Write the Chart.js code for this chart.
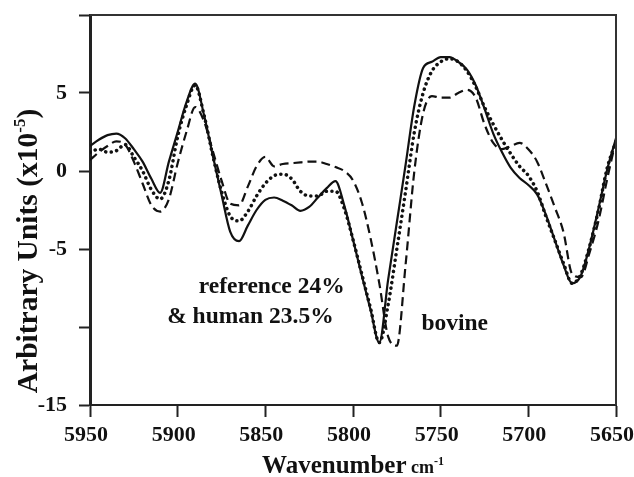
<!DOCTYPE html>
<html>
<head>
<meta charset="utf-8">
<script src="https://cdn.jsdelivr.net/npm/chart.js@4.4.1/dist/chart.umd.min.js"></script>
<style>
  html, body { margin: 0; padding: 0; background: #fff; }
  #spectra { display: block; }
</style>
</head>
<body>
<canvas id="spectra" width="634" height="477"></canvas>
<script>
// wavenumber grid (cm-1), read every 5 units
const wavenumbers = [
  5950, 5945, 5940, 5935, 5930, 5925, 5920, 5915, 5910, 5905,
  5900, 5895, 5890, 5885, 5880, 5875, 5870, 5865, 5860, 5855,
  5850, 5845, 5840, 5835, 5830, 5825, 5820, 5815, 5810, 5805,
  5800, 5795, 5790, 5785, 5780, 5775, 5770, 5765, 5760, 5755,
  5750, 5745, 5740, 5735, 5730, 5725, 5720, 5715, 5710, 5705,
  5700, 5695, 5690, 5685, 5680, 5675, 5670, 5665, 5660, 5655, 5650
];

// solid line - reference 24%
const reference = [
  1.6, 2.0, 2.3, 2.4, 2.1, 1.4, 0.6, -0.5, -1.4, 0.6,
  2.5, 4.4, 5.6, 3.6, 1.0, -1.5, -3.9, -4.5, -3.5, -2.5,
  -1.85, -1.7, -1.9, -2.2, -2.55, -2.3, -1.7, -1.1, -0.65, -2.2,
  -4.4, -6.7, -8.9, -11.0, -7.0, -3.3, 0.4, 4.2, 6.6, 7.0,
  7.3, 7.3, 7.0, 6.5, 5.5, 4.0, 2.4, 1.2, 0.2, -0.45,
  -0.9, -1.5, -2.8, -4.4, -6.0, -7.2, -6.7, -4.8, -2.4, 0.1, 2.1
];

// dotted line - human 23.5%
const human = [
  1.2, 1.4, 1.2, 1.3, 1.7, 0.9, 0.0, -1.2, -1.8, -0.6,
  2.2, 4.2, 5.5, 3.6, 1.0, -1.3, -2.9, -3.2, -2.6, -1.6,
  -0.8, -0.3, -0.2, -0.5, -1.3, -1.6, -1.6, -1.3, -1.3, -2.4,
  -4.4, -6.6, -8.8, -11.0, -8.6, -5.0, -1.3, 2.5, 5.0, 6.4,
  7.0, 7.2, 7.0, 6.4, 5.4, 4.1, 3.0, 2.0, 1.1, 0.3,
  -0.3, -1.3, -2.9, -4.4, -5.9, -7.2, -6.6, -4.8, -2.5, 0.2, 1.9
];

// dashed line - bovine
const bovine = [
  0.7, 1.2, 1.6, 1.9, 1.7, 0.6, -0.8, -2.2, -2.6, -1.8,
  0.5, 2.5, 4.1, 3.2, 1.3, -0.6, -2.1, -2.2, -1.0, 0.3,
  0.9, 0.3, 0.45, 0.5, 0.55, 0.6, 0.6, 0.45, 0.25, 0.0,
  -0.6, -2.0, -4.3, -7.2, -10.6, -11.2, -6.0, 0.0, 3.7, 4.8,
  4.7, 4.7, 5.0, 5.2, 4.7, 3.0, 1.8, 1.4, 1.6, 1.8,
  1.4, 0.6, -0.8, -2.3, -3.9, -6.6, -6.8, -5.2, -3.2, -0.5, 2.0
];

const yLabelsShown = [5, 0, -5, -15];

const notes = [
  { text: 'reference 24%', x: 5888, y: -7.8 },
  { text: '& human 23.5%', x: 5906, y: -9.75 },
  { text: 'bovine', x: 5761, y: -10.2 }
];

const SERIF = '"Liberation Serif", "Times New Roman", serif';

const toPoints = vals => wavenumbers.map((w, i) => ({ x: w, y: vals[i] }));

// draws a row of text pieces (for superscripts), centred on cx
function drawPieces(ctx, pieces, cx, baseline) {
  let total = 0;
  pieces.forEach(p => { ctx.font = p.font; total += ctx.measureText(p.text).width; });
  let x = cx - total / 2;
  pieces.forEach(p => {
    ctx.font = p.font;
    ctx.fillText(p.text, x, baseline + (p.dy || 0));
    x += ctx.measureText(p.text).width;
  });
}

const extras = {
  id: 'extras',
  afterDraw(chart) {
    const { ctx, chartArea: a, scales } = chart;
    ctx.save();
    ctx.strokeStyle = '#333';
    ctx.lineWidth = 2;
    ctx.beginPath();
    ctx.moveTo(a.left, a.top);
    ctx.lineTo(a.right, a.top);
    ctx.lineTo(a.right, a.bottom);
    ctx.stroke();

    ctx.fillStyle = '#111';
    ctx.textAlign = 'left';
    ctx.textBaseline = 'alphabetic';

    // x title
    drawPieces(ctx, [
      { text: 'Wavenumber', font: 'bold 25px ' + SERIF },
      { text: ' cm', font: 'bold 18px ' + SERIF },
      { text: '-1', font: 'bold 12px ' + SERIF, dy: -8 }
    ], (a.left + a.right) / 2, 473);

    // y title
    ctx.save();
    ctx.translate(37, 251);
    ctx.rotate(-Math.PI / 2);
    drawPieces(ctx, [
      { text: 'Arbitrary Units (x10', font: 'bold 29.5px ' + SERIF },
      { text: '-5', font: 'bold 17px ' + SERIF, dy: -12 },
      { text: ')', font: 'bold 29.5px ' + SERIF }
    ], 0, 0);
    ctx.restore();

    // labels in the plot
    ctx.font = 'bold 23.5px ' + SERIF;
    notes.forEach(n => {
      ctx.fillText(n.text, scales.x.getPixelForValue(n.x), scales.y.getPixelForValue(n.y));
    });
    ctx.restore();
  }
};

const tickFont = { family: SERIF, size: 22, weight: 'bold' };

new Chart(document.getElementById('spectra'), {
  type: 'line',
  data: {
    datasets: [
      {
        label: 'reference 24%',
        data: toPoints(reference),
        borderColor: '#111',
        borderWidth: 2.2,
        pointRadius: 0,
        cubicInterpolationMode: 'monotone'
      },
      {
        label: 'human 23.5%',
        data: toPoints(human),
        borderColor: '#111',
        borderWidth: 3.5,
        borderDash: [0.1, 5.5],
        borderCapStyle: 'round',
        pointRadius: 0,
        cubicInterpolationMode: 'monotone'
      },
      {
        label: 'bovine',
        data: toPoints(bovine),
        borderColor: '#111',
        borderWidth: 2.2,
        borderDash: [9, 5],
        pointRadius: 0,
        cubicInterpolationMode: 'monotone'
      }
    ]
  },
  options: {
    responsive: false,
    animation: false,
    devicePixelRatio: 1,
    layout: { padding: { top: 15, right: 18, left: 0, bottom: 0 } },
    plugins: { legend: { display: false }, tooltip: { enabled: false } },
    scales: {
      x: {
        type: 'linear',
        reverse: true,
        min: 5650,
        max: 5950,
        ticks: {
          stepSize: 50,
          autoSkip: false,
          maxRotation: 0,
          padding: 5,
          labelOffset: -4,
          color: '#111',
          font: tickFont,
          callback: v => String(v)
        },
        grid: { drawOnChartArea: false, tickLength: 12, tickWidth: 2, tickColor: '#222' },
        border: { color: '#222', width: 2 },
        afterFit(s) { s.height = 72; s.paddingLeft = 0; s.paddingRight = 0; }
      },
      y: {
        min: -15,
        max: 10,
        ticks: {
          stepSize: 5,
          padding: 12,
          color: '#111',
          font: tickFont,
          callback: v => yLabelsShown.includes(v) ? String(v) : ''
        },
        grid: { drawOnChartArea: false, tickLength: 11, tickWidth: 2, tickColor: '#222' },
        border: { color: '#222', width: 3 },
        afterFit(s) { s.width = 90; s.paddingTop = 0; s.paddingBottom = 0; }
      }
    }
  },
  plugins: [extras]
});
</script>
</body>
</html>
